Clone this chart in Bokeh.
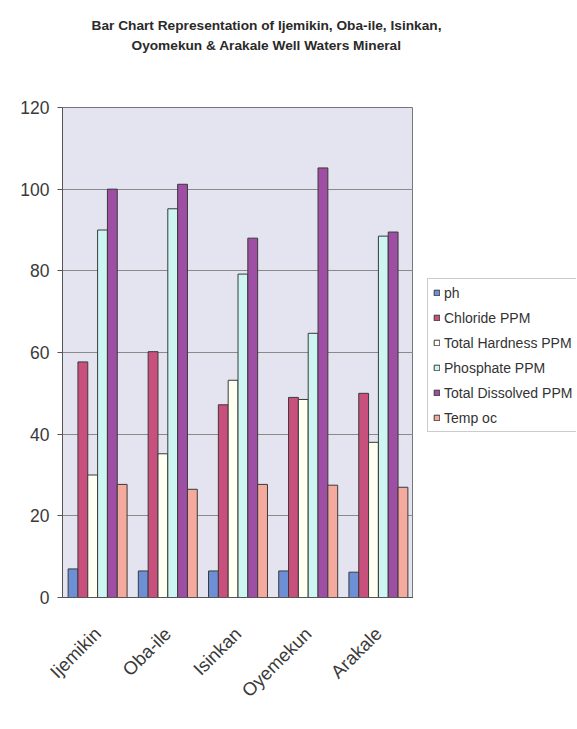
from bokeh.plotting import figure
from bokeh.layouts import row, column
from bokeh.models import ColumnDataSource, FactorRange, Legend, LegendItem, Label, FixedTicker
from bokeh.transform import dodge
from bokeh.embed import file_html
from bokeh.resources import INLINE

sites = ["Ijemikin", "Oba-ile", "Isinkan", "Oyemekun", "Arakale"]
series_names = ["ph", "Chloride PPM", "Total Hardness PPM", "Phosphate PPM",
                "Total Dissolved PPM", "Temp oc"]
ph = [7.0, 6.5, 6.5, 6.5, 6.2]
chloride = [57.7, 60.2, 47.2, 49.0, 50.0]
hardness = [30.0, 35.2, 53.2, 48.5, 38.0]
phosphate = [90.0, 95.2, 79.2, 64.7, 88.5]
tds = [100.0, 101.2, 88.0, 105.2, 89.5]
temp = [27.7, 26.5, 27.7, 27.5, 27.0]
y_ticks = [0, 20, 40, 60, 80, 100, 120]
title_lines = ["Bar Chart Representation of Ijemikin, Oba-ile, Isinkan,",
               "Oyomekun & Arakale Well Waters Mineral"]

colors = ["#6d8fd6", "#c9507c", "#fffff2", "#cdf5f2", "#9e4fa3", "#f4aa9c"]
keys = ["ph", "chloride", "hardness", "phosphate", "tds", "temp"]
src = ColumnDataSource(dict(site=sites, ph=ph, chloride=chloride, hardness=hardness,
                            phosphate=phosphate, tds=tds, temp=temp))

TOP = 14  # space above the frame inside the chart figures

# ---- title strip ----
tf = figure(x_range=(0, 1), y_range=(0, 1), frame_width=577, frame_height=107 - TOP,
            output_backend="svg", toolbar_location=None, x_axis_location=None,
            y_axis_location=None, min_border=0)
tf.grid.grid_line_color = None
tf.outline_line_color = None
for txt, yy in zip(title_lines, [82 - TOP, 62 - TOP]):
    tf.add_layout(Label(x=266, y=yy, x_units="screen", y_units="screen", text=txt,
                        text_align="center", text_baseline="middle",
                        text_font="Liberation Sans", text_font_size="13.7px",
                        text_font_style="bold", text_color="#2a2a2a"))

# ---- main chart ----
fig = figure(x_range=FactorRange(*sites, range_padding=0), y_range=(0, 120),
             frame_width=351, frame_height=490, output_backend="svg", toolbar_location=None,
             title=None, min_border_left=62, min_border_right=0, min_border_bottom=118,
             min_border_top=TOP)

w = 0.14
offsets = [-0.35, -0.21, -0.07, 0.07, 0.21, 0.35]
for k, c, off in zip(keys, colors, offsets):
    fig.vbar(x=dodge("site", off, range=fig.x_range), top=k, width=w, source=src,
             fill_color=c, line_color="#3a3a3a", line_width=1)

fig.background_fill_color = "#e3e4ef"
fig.border_fill_color = "white"
fig.outline_line_color = "#777777"
fig.xgrid.grid_line_color = None
fig.ygrid.grid_line_color = "#8a8a8a"
fig.ygrid.grid_line_width = 1

fig.yaxis.ticker = FixedTicker(ticks=y_ticks)
fig.yaxis.major_label_text_font = "Liberation Sans"
fig.yaxis.major_label_text_font_size = "17.5px"
fig.yaxis.major_label_text_color = "#3a3a3a"
fig.yaxis.minor_tick_line_color = None
fig.yaxis.major_tick_out = 5
fig.yaxis.major_tick_in = 0
fig.yaxis.axis_line_color = "#555555"
fig.yaxis.major_tick_line_color = "#555555"
fig.yaxis.major_label_standoff = 8

fig.xaxis.major_label_orientation = 0.785
fig.xaxis.major_label_text_font = "Liberation Sans"
fig.xaxis.major_label_text_font_size = "18.5px"
fig.xaxis.major_label_text_color = "#3a3a3a"
fig.xaxis.major_tick_line_color = None
fig.xaxis.axis_line_color = "#555555"
fig.xaxis.major_label_standoff = 27

# ---- legend panel ----
lf = figure(x_range=(0, 1), y_range=(0, 1), frame_width=163, frame_height=490,
            output_backend="svg", toolbar_location=None, x_axis_location=None,
            y_axis_location=None, min_border_left=0, min_border_right=0,
            min_border_top=TOP, min_border_bottom=118)
lf.grid.grid_line_color = None
lf.outline_line_color = None
legend_src = ColumnDataSource(dict(x=[0.5], top=[float("nan")]))
items = []
for name, c in zip(series_names, colors):
    r = lf.vbar(x="x", top="top", width=0.1, source=legend_src,
                fill_color=c, line_color="#3a3a3a")
    items.append(LegendItem(label=name, renderers=[r]))
legend = Legend(items=items, location=(14, 165), glyph_width=7, glyph_height=7,
                label_text_font="Liberation Sans", label_text_font_size="14px",
                label_text_color="#333333", label_standoff=4, label_height=17,
                spacing=8, padding=5, margin=0, border_line_color="#999999",
                background_fill_color="white", background_fill_alpha=1.0)
lf.add_layout(legend)

p = column(tf, row(fig, lf, spacing=0), spacing=0)
open("out.html", "w").write(file_html(p, INLINE))
